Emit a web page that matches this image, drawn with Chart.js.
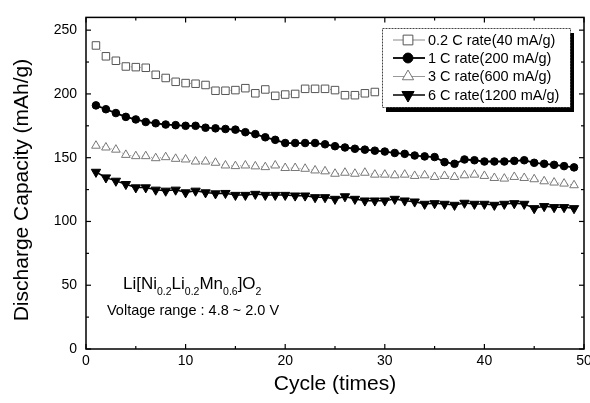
<!DOCTYPE html>
<html><head><meta charset="utf-8">
<script src="https://cdn.jsdelivr.net/npm/chart.js@4.4.1/dist/chart.umd.min.js"></script>
<style>html,body{margin:0;padding:0;background:#fff;overflow:hidden;width:590px;height:403px}canvas{display:block}</style>
</head><body><canvas id="c" width="600" height="403"></canvas>
<script>
// ---- data ----
const cycles = [1,2,3,4,5,6,7,8,9,10,11,12,13,14,15,16,17,18,19,20,21,22,23,24,25,26,27,28,29,30,31,32,33,34,35,36,37,38,39,40,41,42,43,44,45,46,47,48,49];
const rate02C = [238,229.5,226,221.5,221,220.5,215,212.5,209.5,208.5,208,207,202.5,202.5,203,204.5,200.5,203.5,198.5,199.5,200,204,204,204,203,199,199,200.5,201.5];
const rate1C = [191,188,185,182,180,178,177,176,175.5,175,175,173.5,173,172.5,172,170,168.5,166,164,161.5,161.5,161.5,161.5,160.5,159,158,157,156.3,155.5,154.8,153.7,153,151.7,151,150.5,146.5,145.2,148.6,148,147,147,147,147.5,148,146,145.2,144.4,143.4,142.4];
const rate3C = [159.4,158,156.3,152.2,151.2,151.2,149.6,150.4,149.1,148.6,147,147,146,143.9,143.4,143.9,143.2,142.6,143.9,141.9,141.9,141.3,140,139.3,137.4,138.2,137.4,138.2,136.7,136.7,136.2,136.7,135.7,136.2,134.9,135.7,134.9,136.2,136.7,135.7,134.1,133.6,134.9,134.1,133.1,131.5,130.5,129.7,128.4];
const rate6C = [138.8,134.4,131.8,129.2,126.6,126.6,124.8,124,124.8,122.7,124,122.7,121.9,122.2,120.7,120.7,121.5,120.7,120.7,120.7,120.2,120.2,118.9,118.9,117.6,119.6,117.6,116.3,116.3,116.3,117.6,116.3,115.5,113.7,114.2,113.7,112.9,114.5,113.7,113.7,112.9,113.7,114.2,113.7,110.3,111.9,111.1,111.1,110.3];
const seriesLabels = ['0.2 C rate(40 mA/g)','1 C rate(200 mA/g)','3 C rate(600 mA/g)','6 C rate(1200 mA/g)'];
const xMajorTicks = [0,10,20,30,40,50];
const xTickLabels = ['0','10','20','30','40','50'];
const xMinorTicks = [5,15,25,35,45];
const yMajorTicks = [0,50,100,150,200,250];
const yTickLabels = ['0','50','100','150','200','250'];
const yMinorTicks = [25,75,125,175,225];
const xTitle = 'Cycle (times)';
const yTitle = 'Discharge Capacity (mAh/g)';
const formulaParts = [['Li[Ni',false],['0.2',true],['Li',false],['0.2',true],['Mn',false],['0.6',true],[']O',false],['2',true]];
const voltageText = 'Voltage range : 4.8 ~ 2.0 V';

const FONT = "'Liberation Sans', Arial, Helvetica, sans-serif";
Chart.defaults.font.family = FONT;
Chart.defaults.color = '#000';

const toPts = (vals) => vals.map((v, i) => ({x: cycles[i], y: v}));

const datasets = [
  {label: seriesLabels[0], data: toPts(rate02C), borderColor: '#8a8a8a', borderWidth: 1, borderDash: [1,2],
   pointStyle: 'rect', pointRadius: 5.3, pointBackgroundColor: '#fff', pointBorderColor: '#555', pointBorderWidth: 1},
  {label: seriesLabels[1], data: toPts(rate1C), borderColor: '#000', borderWidth: 1.8,
   pointStyle: 'circle', pointRadius: 3.8, pointBackgroundColor: '#000', pointBorderColor: '#000', pointBorderWidth: 1},
  {label: seriesLabels[2], data: toPts(rate3C), borderColor: '#999', borderWidth: 1, borderDash: [1,2],
   pointStyle: 'triangle', pointRadius: 5, pointBackgroundColor: '#fff', pointBorderColor: '#777', pointBorderWidth: 1},
  {label: seriesLabels[3], data: toPts(rate6C), borderColor: '#000', borderWidth: 1.5,
   pointStyle: 'triangle', pointRotation: 180, pointRadius: 5.4, pointBackgroundColor: '#000', pointBorderColor: '#000', pointBorderWidth: 1}
];

const framePlugin = {
  id: 'frame',
  afterDatasetsDraw(chart) {
    const {ctx, chartArea: a, scales: {x, y}} = chart;
    ctx.save();
    ctx.strokeStyle = '#000';
    ctx.lineWidth = 1.5;
    ctx.strokeRect(a.left, a.top, a.right - a.left, a.bottom - a.top);
    ctx.lineWidth = 1.2;
    const tick = (x1, y1, x2, y2) => { ctx.beginPath(); ctx.moveTo(x1, y1); ctx.lineTo(x2, y2); ctx.stroke(); };
    xMajorTicks.forEach(v => { const px = x.getPixelForValue(v); tick(px, a.bottom, px, a.bottom - 5); tick(px, a.top, px, a.top + 5); });
    xMinorTicks.forEach(v => { const px = x.getPixelForValue(v); tick(px, a.bottom, px, a.bottom - 3); tick(px, a.top, px, a.top + 3); });
    yMajorTicks.forEach(v => { const py = y.getPixelForValue(v); tick(a.left, py, a.left + 5, py); tick(a.right, py, a.right - 5, py); });
    yMinorTicks.forEach(v => { const py = y.getPixelForValue(v); tick(a.left, py, a.left + 3, py); tick(a.right, py, a.right - 3, py); });
    // y-axis title
    ctx.fillStyle = '#000';
    ctx.font = '21px ' + FONT;
    ctx.textAlign = 'center';
    ctx.textBaseline = 'middle';
    ctx.translate(22, 190);
    ctx.rotate(-Math.PI / 2);
    ctx.fillText(yTitle, 0, 0);
    ctx.restore();
  }
};

const legendPlugin = {
  id: 'boxLegend',
  afterDraw(chart) {
    const ctx = chart.ctx;
    const bx = 382, by = 28, bw = 188, bh = 79;
    ctx.save();
    ctx.fillStyle = '#000';
    ctx.fillRect(bx + 4, by + 5, bw, bh);
    ctx.fillStyle = '#fff';
    ctx.fillRect(bx, by, bw, bh);
    ctx.strokeStyle = '#444';
    ctx.lineWidth = 1;
    ctx.setLineDash([2, 1]);
    ctx.strokeRect(bx + 0.5, by + 0.5, bw, bh);
    ctx.setLineDash([]);
    const rows = [40, 58, 76.5, 95];
    chart.data.datasets.forEach((ds, i) => {
      const yy = rows[i];
      ctx.strokeStyle = ds.borderColor;
      ctx.lineWidth = ds.borderWidth;
      ctx.beginPath(); ctx.moveTo(393, yy); ctx.lineTo(425, yy); ctx.stroke();
      ctx.fillStyle = ds.pointBackgroundColor;
      ctx.strokeStyle = ds.pointBorderColor;
      ctx.lineWidth = 1;
      Chart.helpers.drawPoint(ctx, {pointStyle: ds.pointStyle, radius: ds.pointRadius * 1.3, rotation: ds.pointRotation || 0, borderWidth: 1}, 408, yy);
      ctx.fillStyle = '#000';
      ctx.font = '14.5px ' + FONT;
      ctx.textBaseline = 'middle';
      ctx.textAlign = 'left';
      ctx.fillText(ds.label, 428, yy + 0.5);
    });
    // annotation
    let xx = 123;
    formulaParts.forEach(([t, sub]) => {
      ctx.font = (sub ? '10.5px ' : '17px ') + FONT;
      ctx.textBaseline = 'alphabetic';
      ctx.fillText(t, xx, sub ? 295 : 289);
      xx += ctx.measureText(t).width;
    });
    ctx.font = '14.5px ' + FONT;
    ctx.fillText(voltageText, 107, 315);
    ctx.restore();
  }
};

new Chart(document.getElementById('c'), {
  type: 'line',
  data: {datasets},
  options: {
    responsive: false,
    animation: false,
    layout: {padding: {top: 13, right: 16, left: 0, bottom: 0}},
    plugins: {legend: {display: false}, tooltip: {enabled: false}},
    scales: {
      x: {
        type: 'linear', min: 0, max: 50,
        afterFit: s => { s.height = 54; },
        afterBuildTicks: s => { s.ticks = xMajorTicks.map(v => ({value: v})); },
        grid: {display: false, drawTicks: false},
        border: {display: false},
        ticks: {font: {size: 14}, padding: 4, maxRotation: 0, autoSkip: false,
                callback: v => { const i = xMajorTicks.indexOf(v); return i >= 0 ? xTickLabels[i] : ''; }},
        title: {display: true, text: xTitle, font: {size: 21}, padding: {top: 0, bottom: 6}}
      },
      y: {
        type: 'linear', min: 0, max: 260,
        afterFit: s => { s.width = 86; },
        afterBuildTicks: s => { s.ticks = yMajorTicks.map(v => ({value: v})); },
        grid: {display: false, drawTicks: false},
        border: {display: false},
        ticks: {font: {size: 14}, padding: 9, autoSkip: false,
                callback: v => { const i = yMajorTicks.indexOf(v); return i >= 0 ? yTickLabels[i] : ''; }},
        title: {display: false, text: yTitle}
      }
    }
  },
  plugins: [framePlugin, legendPlugin]
});
</script>
</body></html>
